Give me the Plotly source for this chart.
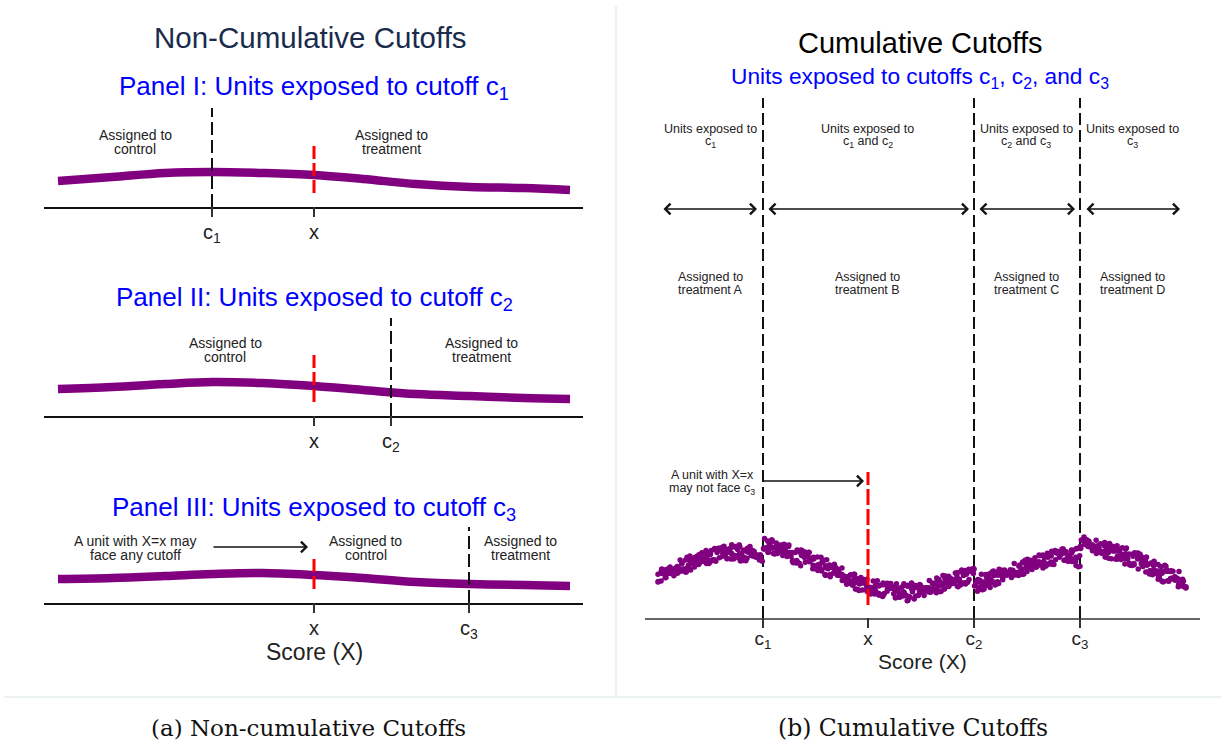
import numpy as np
import plotly.graph_objects as go

W, H = 1225, 746

# ---------------- data ----------------
# Left (non-cumulative) panels: score units along x, outcome units along y
left_c = [16.8, 34.7, 42.5]          # c1, c2, c3 positions in panels I, II, III
left_xval = 27.0                     # the unit's score x
band_x = [1.4, 6.8, 12.1, 16.8, 21.8, 27.0, 31.9, 37.2, 42.6, 48.0, 52.6]
band1_y = [2.6, 3.0, 3.4, 3.5, 3.4, 3.2, 2.8, 2.3, 2.0, 1.9, 1.7]
band2_y = [2.7, 2.9, 3.2, 3.4, 3.3, 3.0, 2.6, 2.2, 2.0, 1.8, 1.7]
band3_y = [2.4, 2.5, 2.7, 2.9, 3.0, 2.8, 2.5, 2.1, 1.9, 1.8, 1.7]
left_tick_labels = [["c<sub>1</sub>", "x"], ["x", "c<sub>2</sub>"], ["x", "c<sub>3</sub>"]]

# Right (cumulative) panel
right_c = [11.8, 32.9, 43.5]
right_xval = 22.3
right_tick_labels = ["c<sub>1</sub>", "x", "c<sub>2</sub>", "c<sub>3</sub>"]
# point-cloud envelope, per segment between cutoffs
seg_knot_x = [
    [1.3, 3.2, 5.0, 6.9, 8.7, 10.5, 11.6],
    [12.0, 13.5, 15.3, 17.1, 19.0, 20.8, 22.3, 24.5, 26.3, 28.2, 30.0, 31.8, 32.7],
    [33.1, 34.8, 36.6, 38.5, 40.3, 42.1, 43.3],
    [43.7, 45.5, 47.3, 49.1, 51.0, 52.8, 54.1],
]
seg_hi = [
    [4.8, 5.8, 6.6, 7.1, 7.5, 7.3, 6.8],
    [8.1, 7.8, 7.1, 6.5, 5.5, 4.6, 4.1, 3.6, 3.6, 3.8, 4.5, 5.0, 5.1],
    [4.5, 4.8, 5.5, 6.1, 6.8, 7.1, 7.1],
    [8.3, 7.8, 7.5, 6.8, 5.8, 5.1, 4.5],
]
seg_lo = [
    [3.5, 4.1, 4.8, 5.5, 5.6, 5.6, 5.5],
    [6.5, 6.1, 5.1, 4.5, 3.8, 2.8, 2.3, 1.8, 1.6, 2.1, 2.6, 3.1, 3.5],
    [2.1, 3.1, 3.8, 4.5, 5.0, 5.5, 5.0],
    [6.8, 6.1, 5.5, 4.8, 3.8, 3.1, 2.5],
]
# fixed scatter pattern of the cloud (fractions across the band / small x shifts)
pattern_v = [0.05, 0.62, 0.31, 0.88, 0.17, 0.74, 0.45, 0.97, 0.26, 0.53, 0.09, 0.81, 0.39]
pattern_w = [0.0, 0.37, 0.71, 0.14, 0.52, 0.86, 0.23, 0.64, 0.91, 0.43, 0.08]
pattern_dx = [0.0, 0.3, -0.2, 0.1, -0.35, 0.25, -0.1]
n_points = 900

PURPLE = "#800080"
RED = "#ff0000"
BLUE = "#0000ff"
FONT = "Liberation Sans, Arial, sans-serif"


def px(x):
    return x / W


def py(y):
    return 1 - y / H


# build cloud points
x0, x1 = seg_knot_x[0][0], seg_knot_x[-1][-1]
cx, cy = [], []
for i in range(n_points):
    xv = x0 + (x1 - x0) * (i + 0.5) / n_points + pattern_dx[i % len(pattern_dx)]
    xv = min(max(xv, x0), x1)
    s = 0
    for k in range(len(right_c)):
        if xv >= right_c[k]:
            s = k + 1
    lo = np.interp(xv, seg_knot_x[s], seg_lo[s])
    hi = np.interp(xv, seg_knot_x[s], seg_hi[s])
    v = (pattern_v[i % len(pattern_v)] + pattern_w[i % len(pattern_w)]) % 1.0
    v = 0.06 + 0.88 * v
    cx.append(xv)
    cy.append(lo + v * (hi - lo))

fig = go.Figure()

# ------------- left panels -------------
left_bottoms = [207, 416, 603]
left_xdom = [px(44), px(583)]
left_yrange = 11.0
dash_tops = [9.9, 9.8, 7.6]
red_tops = [6.1, 6.1, 4.5]
band_ys = [band1_y, band2_y, band3_y]

for p in range(3):
    xa = "x" if p == 0 else f"x{p+1}"
    ya = "y" if p == 0 else f"y{p+1}"
    fig.add_trace(go.Scatter(x=band_x, y=band_ys[p], mode="lines",
                             line=dict(color=PURPLE, width=8.5, shape="spline"),
                             xaxis=xa, yaxis=ya, hoverinfo="skip"))
    fig.add_trace(go.Scatter(x=[left_c[p], left_c[p]], y=[0, dash_tops[p]], mode="lines",
                             line=dict(color="#111111", width=2, dash="13px,5px"),
                             xaxis=xa, yaxis=ya, hoverinfo="skip"))
    fig.add_trace(go.Scatter(x=[left_xval, left_xval], y=[1.4, red_tops[p]], mode="lines",
                             line=dict(color=RED, width=3, dash="13px,4px"),
                             xaxis=xa, yaxis=ya, hoverinfo="skip"))

# ------------- right panel -------------
for c in right_c:
    fig.add_trace(go.Scatter(x=[c, c], y=[0, 52.0], mode="lines",
                             line=dict(color="#111111", width=2, dash="12px,5px"),
                             xaxis="x4", yaxis="y4", hoverinfo="skip"))
fig.add_trace(go.Scatter(x=cx, y=cy, mode="markers",
                         marker=dict(color=PURPLE, size=5.5, line=dict(width=0)),
                         xaxis="x4", yaxis="y4", hoverinfo="skip"))
fig.add_trace(go.Scatter(x=[right_xval, right_xval], y=[1.3, 14.6], mode="lines",
                         line=dict(color=RED, width=3, dash="16px,4px"),
                         xaxis="x4", yaxis="y4", hoverinfo="skip"))

# ------------- axes -------------
layout_axes = {}
shapes = []
for p in range(3):
    b = left_bottoms[p]
    top = b - left_yrange * 10
    xk = "xaxis" if p == 0 else f"xaxis{p+1}"
    yk = "yaxis" if p == 0 else f"yaxis{p+1}"
    xa = "x" if p == 0 else f"x{p+1}"
    vals = sorted([left_c[p], left_xval])
    layout_axes[xk] = dict(domain=left_xdom, range=[0, 53.9], anchor="y" if p == 0 else f"y{p+1}",
                           showline=True, linecolor="#111111", linewidth=2, showgrid=False,
                           zeroline=False, ticks="outside", ticklen=6, tickwidth=1,
                           tickcolor="rgba(0,0,0,0)", tickvals=vals, ticktext=left_tick_labels[p],
                           tickfont=dict(family=FONT, size=20, color="#222222"),
                           fixedrange=True)
    layout_axes[yk] = dict(domain=[py(b), py(top)], range=[0, left_yrange], visible=False,
                           anchor="x" if p == 0 else f"x{p+1}", fixedrange=True)
    for v in vals:
        shapes.append(dict(type="line", xref=xa, yref="paper", x0=v, x1=v,
                           y0=py(b), y1=py(b + 10), line=dict(color="#333333", width=2)))

right_vals = [right_c[0], right_xval, right_c[1], right_c[2]]
layout_axes["xaxis4"] = dict(domain=[px(645), px(1200)], range=[0, 55.5], anchor="y4",
                             showline=True, linecolor="#666666", linewidth=2, showgrid=False,
                             zeroline=False, ticks="outside", ticklen=2, tickwidth=1,
                             tickcolor="rgba(0,0,0,0)",
                             tickvals=right_vals, ticktext=right_tick_labels,
                             tickfont=dict(family=FONT, size=19, color="#222222"),
                             fixedrange=True)
layout_axes["yaxis4"] = dict(domain=[py(618), py(95)], range=[0, 52.3], visible=False,
                             anchor="x4", fixedrange=True)
for v in right_vals:
    shapes.append(dict(type="line", xref="x4", yref="paper", x0=v, x1=v,
                       y0=py(618), y1=py(628), line=dict(color="#333333", width=2)))

# ------------- annotations -------------
ann = []


def text(t, x, y, size, color="#222222", family=FONT):
    ann.append(dict(text=t, x=px(x), y=py(y), xref="paper", yref="paper",
                    showarrow=False, xanchor="center", yanchor="middle",
                    font=dict(family=family, size=size, color=color)))


def lines(ts, x, y, size, gap, color="#222222"):
    for k, t in enumerate(ts):
        text(t, x, y + k * gap, size, color)


text("Non-Cumulative Cutoffs", 310, 37, 29.5, "#1a2b4c")
text("Panel I: Units exposed to cutoff c<sub>1</sub>", 314, 88, 26, BLUE)
text("Panel II: Units exposed to cutoff c<sub>2</sub>", 314, 298, 26, BLUE)
text("Panel III: Units exposed to cutoff c<sub>3</sub>", 314, 508, 26, BLUE)

lines(["Assigned to", "control"], 135, 135, 14, 14)
lines(["Assigned to", "treatment"], 391, 135, 14, 14)
lines(["Assigned to", "control"], 225, 343, 14, 14)
lines(["Assigned to", "treatment"], 481, 343, 14, 14)
lines(["A unit with X=x may", "face any cutoff"], 135, 541, 14, 14)
lines(["Assigned to", "control"], 366, 541, 14, 14)
lines(["Assigned to", "treatment"], 520, 541, 14, 14)
text("Score (X)", 314, 652, 23)

text("Cumulative Cutoffs", 920, 43, 29, "#000000")
text("Units exposed to cutoffs c<sub>1</sub>, c<sub>2</sub>, and c<sub>3</sub>", 920, 78, 22.7, BLUE)
for xc, sub in [(710, "c<sub>1</sub>"), (868, "c<sub>1</sub> and c<sub>2</sub>"),
                (1026, "c<sub>2</sub> and c<sub>3</sub>"), (1132, "c<sub>3</sub>")]:
    lines(["Units exposed to", sub], xc, 129, 12.5, 13.5)
for xc, letter in [(710, "A"), (868, "B"), (1026, "C"), (1132, "D")]:
    lines(["Assigned to", "treatment " + letter], xc, 277, 12.5, 13)
lines(["A unit with X=x", "may not face c<sub>3</sub>"], 712, 475, 12.5, 13.5)
text("Score (X)", 922, 661, 21)

SERIF = "DejaVu Serif, Liberation Serif, serif"
text("(a) Non-cumulative Cutoffs", 308, 728, 23, "#111111", SERIF)
text("(b) Cumulative Cutoffs", 913, 728, 23.5, "#111111", SERIF)


def arrow(xh, xt, y, xa, ya, both=False):
    ann.append(dict(x=xh, y=y, ax=xt, ay=y, xref=xa, yref=ya, axref=xa, ayref=ya,
                    text="", showarrow=True, arrowhead=4, arrowsize=1.3, arrowwidth=1.6,
                    arrowcolor="#111111", arrowside="end+start" if both else "end",
                    standoff=0, startstandoff=0))


arrow(26.4, 16.8, 5.6, "x3", "y3")
for a, b in [(1.7, 11.2), (12.2, 32.4), (33.3, 43.0), (44.0, 53.5)]:
    arrow(b, a, 40.9, "x4", "y4", both=True)
arrow(21.9, 11.7, 13.7, "x4", "y4")

shapes += [
    dict(type="line", xref="paper", yref="paper", x0=px(616), x1=px(616), y0=py(6), y1=py(697),
         line=dict(color="#e6eded", width=1.5)),
    dict(type="line", xref="paper", yref="paper", x0=px(4), x1=px(1221), y0=py(697), y1=py(697),
         line=dict(color="#e6eded", width=1.5)),
]

fig.update_layout(width=W, height=H, autosize=False, margin=dict(l=0, r=0, t=0, b=0),
                  paper_bgcolor="white", plot_bgcolor="white", showlegend=False,
                  annotations=ann, shapes=shapes, **layout_axes)

fig.write_html("out.html", config={"displayModeBar": False},
               post_script="document.body.style.margin='0';document.body.style.padding='0';")
